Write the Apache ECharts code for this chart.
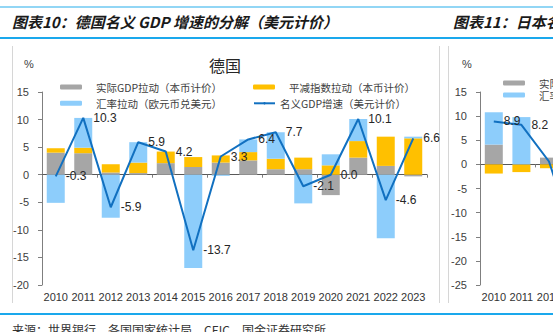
<!DOCTYPE html>
<html><head><meta charset="utf-8">
<script src="https://cdn.jsdelivr.net/npm/echarts@6/dist/echarts.min.js"></script>
<style>html,body{margin:0;padding:0;background:#fff;overflow:hidden}#c{width:553px;height:332px}</style>
</head><body><div id="c"></div>
<script>
// ---- Germany (德国) ----
const years = ['2010','2011','2012','2013','2014','2015','2016','2017','2018','2019','2020','2021','2022','2023'];
const deReal     = [4.0, 3.9, 0.4, 0.3, 2.1, 1.4, 2.2, 2.6, 1.0, 1.0, -3.7, 3.1, 1.6, -0.3];
const deDeflator = [0.8, 1.0, 1.5, 1.9, 2.1, 1.8, 1.3, 1.5, 1.9, 2.1, 1.7, 3.0, 5.3, 6.6];
const deFx       = [-5.1, 5.4, -7.8, 3.7, 0.0, -16.9, -0.2, 2.3, 4.8, -5.2, 2.0, 4.0, -11.5, 0.3];
const deNominal  = [-0.3, 10.3, -5.9, 5.9, 4.2, -13.7, 3.3, 6.4, 7.7, -2.1, 0.0, 10.1, -4.6, 6.6];
const deTicks    = [-20, -15, -10, -5, 0, 5, 10, 15];
// ---- Japan (日本), only the visible part ----
const jpYears    = ['2010','2011','2012','2013'];
const jpReal     = [4.1, 0.0, 1.4, null];
const jpDeflator = [-1.9, -1.6, -0.8, null];
const jpFx       = [6.7, 9.8, 0.0, null];
const jpNominal  = [8.9, 8.2, 0.6, -16.9];
const jpTicks    = [-25, -20, -15, -10, -5, 0, 5, 10, 15];

const nReal = '实际GDP拉动（本币计价）';
const nDefl = '平减指数拉动（本币计价）';
const nFxDE = '汇率拉动（欧元币兑美元）';
const nFxJP = '汇率拉动（日元兑美元）';
const nNom  = '名义GDP增速（美元计价）';

const C_GRAY = '#A6A6A6', C_YEL = '#FFC000', C_BLUE = '#8DCDFB', C_LINE = '#1170C0';
const AX = '#7F7F7F';
const numFont = 'Liberation Sans, Arial, sans-serif';
const cjkFont = 'Noto Sans CJK SC, sans-serif';

function yAx(grid, ticks) {
  return {
    type: 'value', gridIndex: grid, min: ticks[0], max: ticks[ticks.length - 1], interval: 5,
    splitLine: { show: false },
    axisLine: { show: true, lineStyle: { color: AX, width: 1 } },
    axisTick: { show: true, length: 4, lineStyle: { color: AX } },
    axisLabel: { margin: 13, color: '#404040', fontSize: 11, fontFamily: numFont }
  };
}
function xAxLine(grid, cats) {
  return {
    type: 'category', gridIndex: grid, data: cats, position: 'bottom',
    axisLine: { show: true, onZero: true, lineStyle: { color: '#595959', width: 1 } },
    axisTick: { show: true, length: 3, lineStyle: { color: AX } },
    axisLabel: { show: false }
  };
}
function xAxLab(grid, cats) {
  return {
    type: 'category', gridIndex: grid, data: cats, position: 'bottom',
    axisLine: { show: false, onZero: false }, axisTick: { show: false },
    axisLabel: { interval: 0, margin: 6, color: '#333', fontSize: 11, fontFamily: numFont }
  };
}
function bar(name, data, color, xi, yi, stack) {
  return { name, type: 'bar', data, stack, xAxisIndex: xi, yAxisIndex: yi, barWidth: 18,
    itemStyle: { color }, emphasis: { disabled: true } };
}
function line(name, data, xi, yi) {
  return { name, type: 'line', data, xAxisIndex: xi, yAxisIndex: yi, symbol: 'circle', symbolSize: 0,
    itemStyle: { color: C_LINE }, lineStyle: { color: C_LINE, width: 2 }, z: 5,
    emphasis: { disabled: true },
    label: { show: true, position: 'right', distance: 10, color: '#262626', fontSize: 12, fontFamily: numFont,
      formatter: p => (p.value == null ? '' : Number(p.value).toFixed(1)) } };
}
function lg(name, left, centerY, isLine, lh) {
  lh = lh || 12;
  return {
    left, top: centerY - lh / 2, padding: 0, selectedMode: false,
    data: [name],
    itemWidth: isLine ? 21 : 22, itemHeight: isLine ? 3 : 5,
    textStyle: { color: '#404040', fontSize: 10.5, fontFamily: cjkFont, lineHeight: lh,
      padding: isLine ? [0, 0, 0, 0] : [0, 0, 0, 9] }
  };
}

const chart = echarts.init(document.getElementById('c'), null, { renderer: 'svg' });
chart.setOption({
  animation: false,
  backgroundColor: '#fff',
  grid: [
    { left: 42, right: 126, top: 92, bottom: 47, outerBoundsMode: 'none', containLabel: false },
    { left: 480, width: 110.4, top: 92, bottom: 47, outerBoundsMode: 'none', containLabel: false }
  ],
  xAxis: [xAxLine(0, years), xAxLab(0, years), xAxLine(1, jpYears), xAxLab(1, jpYears)],
  yAxis: [yAx(0, deTicks), yAx(1, jpTicks)],
  legend: [
    lg(nReal, 60, 87, false), lg(nDefl, 253, 87, false),
    lg(nFxDE, 60, 103.3, false), lg(nNom, 253, 103.3, true),
    lg(nReal, 503, 83, false, 11), lg(nFxJP, 503, 95, false, 11)
  ],
  series: [
    bar(nReal, deReal, C_GRAY, 0, 0, 'de'),
    bar(nDefl, deDeflator, C_YEL, 0, 0, 'de'),
    bar(nFxDE, deFx, C_BLUE, 0, 0, 'de'),
    line(nNom, deNominal, 0, 0),
    bar(nReal, jpReal, C_GRAY, 2, 1, 'jp'),
    bar(nDefl, jpDeflator, C_YEL, 2, 1, 'jp'),
    bar(nFxJP, jpFx, C_BLUE, 2, 1, 'jp'),
    line(nNom, jpNominal, 2, 1)
  ],
  graphic: [
    { type: 'line', shape: { x1: 0, y1: 7, x2: 553, y2: 7 }, style: { stroke: '#6EC8F2', lineWidth: 1.5 } },
    { type: 'line', shape: { x1: 0, y1: 38, x2: 553, y2: 38 }, style: { stroke: '#1AA8EC', lineWidth: 2 } },
    { type: 'line', shape: { x1: 0, y1: 314, x2: 553, y2: 314 }, style: { stroke: '#1AA8EC', lineWidth: 2 } },
    { type: 'line', shape: { x1: 12.5, y1: 46, x2: 12.5, y2: 303 }, style: { stroke: '#D6D6D6', lineWidth: 1 } },
    { type: 'line', shape: { x1: 439.5, y1: 46, x2: 439.5, y2: 303 }, style: { stroke: '#D6D6D6', lineWidth: 1 } },
    { type: 'line', shape: { x1: 448.5, y1: 46, x2: 448.5, y2: 303 }, style: { stroke: '#D6D6D6', lineWidth: 1 } },
    { type: 'text', x: 12, y: 14, style: { text: '图表10：德国名义 GDP 增速的分解（美元计价）', fill: '#1a1a1a',
      font: 'italic bold 15px Noto Sans CJK SC', verticalAlign: 'top' } },
    { type: 'text', x: 453, y: 14, style: { text: '图表11：日本名义 GDP 增速的分解（美元计价）', fill: '#1a1a1a',
      font: 'italic bold 15px Noto Sans CJK SC', verticalAlign: 'top' } },
    { type: 'text', x: 209, y: 57, style: { text: '德国', fill: '#262626', font: '16px Noto Sans CJK SC', verticalAlign: 'top' } },
    { type: 'text', x: 24, y: 58, style: { text: '%', fill: '#404040', font: '11px Liberation Sans', verticalAlign: 'top' } },
    { type: 'text', x: 462, y: 58, style: { text: '%', fill: '#404040', font: '11px Liberation Sans', verticalAlign: 'top' } },
    { type: 'text', x: 12, y: 323, style: { text: '来源：世界银行，各国国家统计局，CEIC，国金证券研究所', fill: '#333',
      font: '12px Noto Sans CJK SC', verticalAlign: 'top' } }
  ]
});
</script></body></html>
